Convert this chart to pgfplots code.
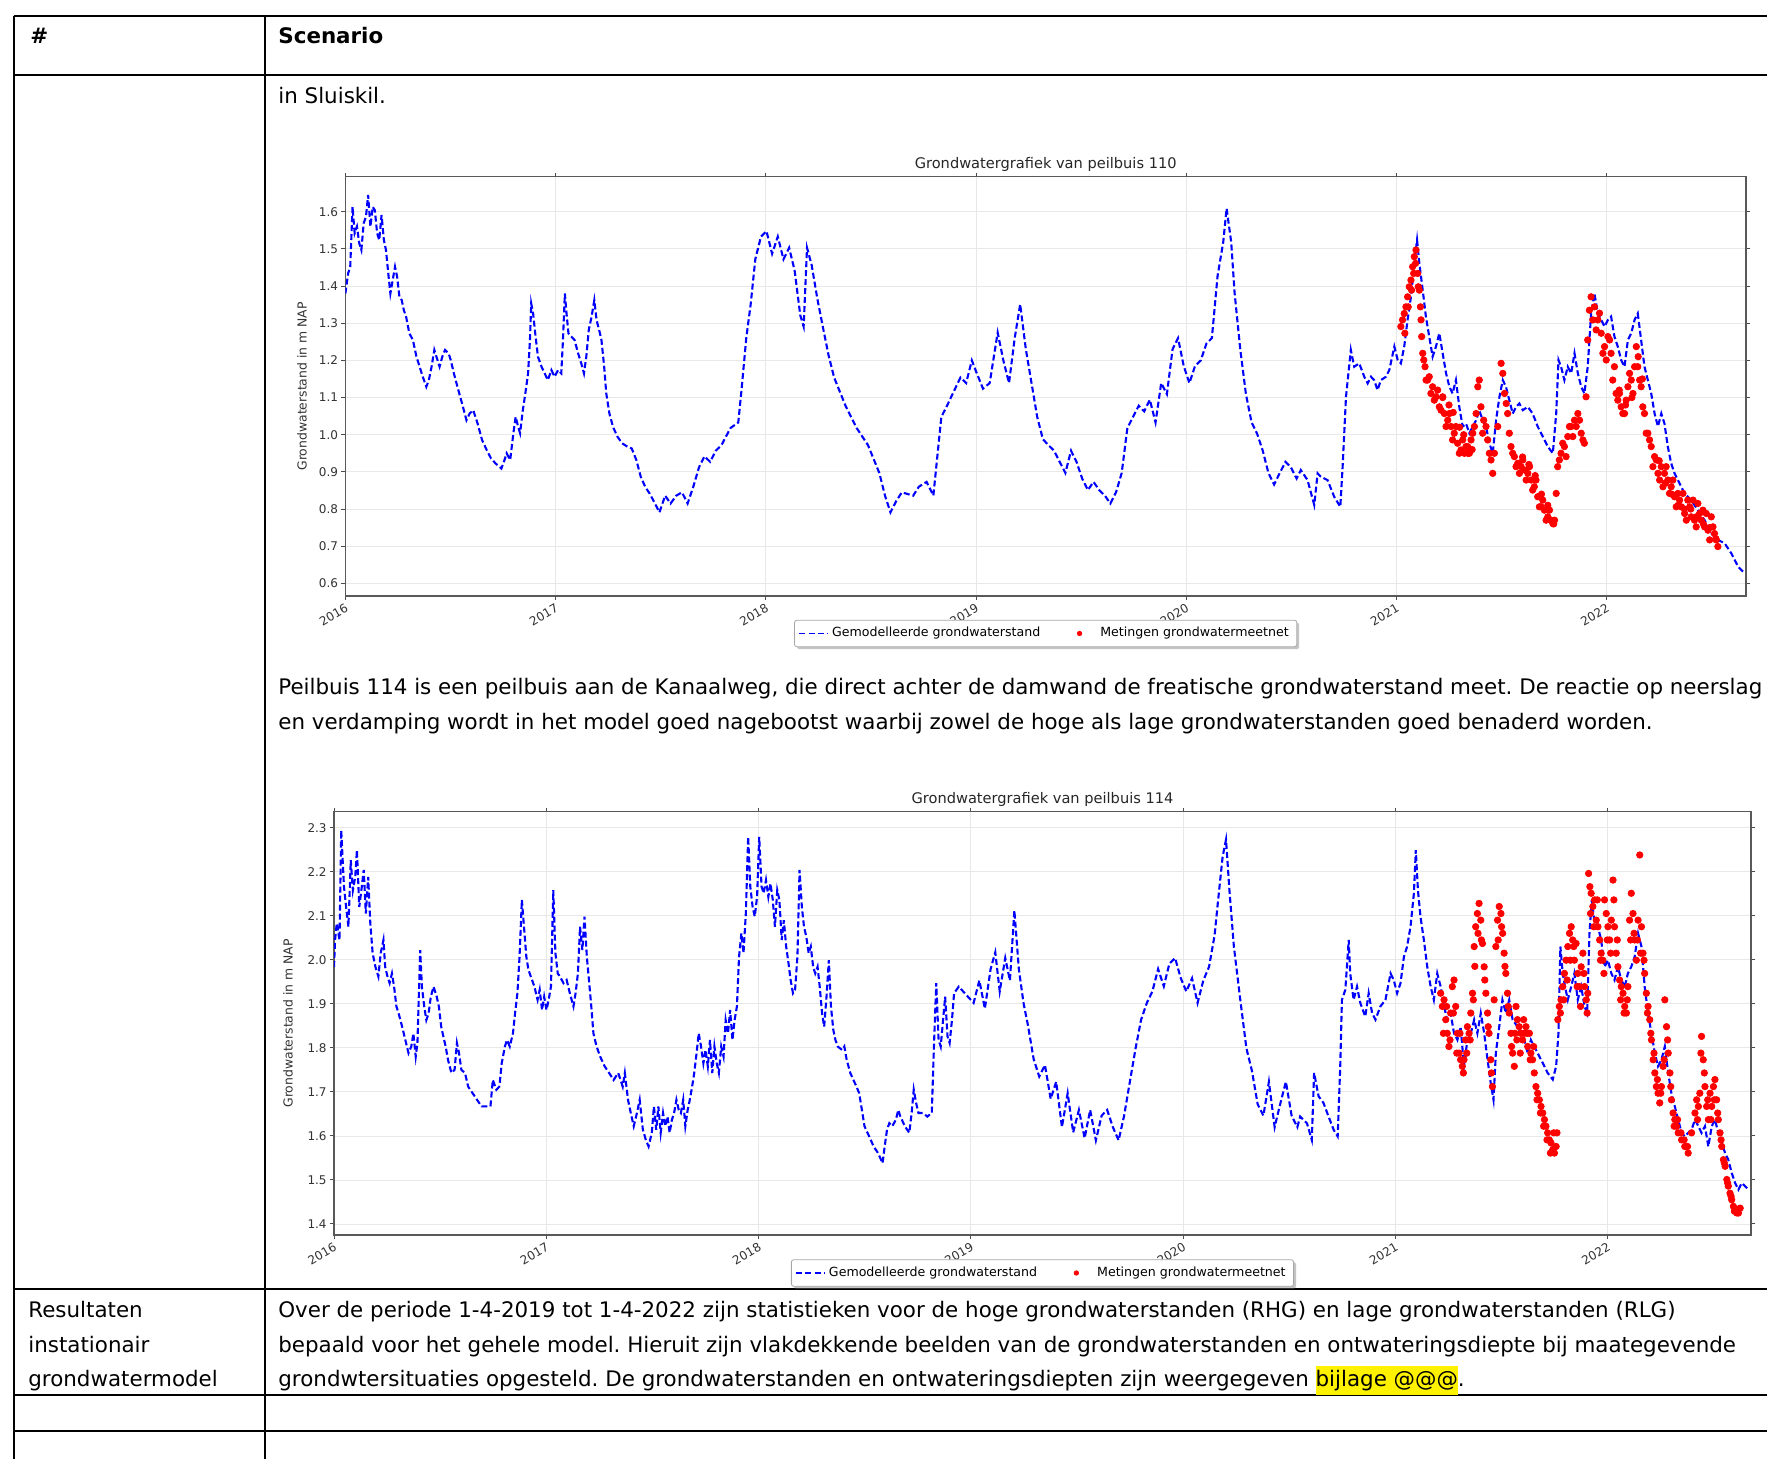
\documentclass[border=0pt]{standalone}
\usepackage{fontspec}
\setmainfont{DejaVu Sans}
\usepackage{pgfplots}
\pgfplotsset{compat=1.18}
\usetikzlibrary{shadows}
\makeatletter
\tikzset{nopreact/.code={\let\tikz@preactions\pgfutil@empty}}
\makeatother
\frenchspacing
\newcommand{\ctick}{\fontsize{6}{7}\selectfont}
\newcommand{\clab}{\fontsize{6.2}{7.2}\selectfont}
\newcommand{\ctitle}{\fontsize{7.3}{8.5}\selectfont}
\newcommand{\cleg}{\fontsize{6.3}{7.4}\selectfont}
\newcommand{\bodyf}{\fontsize{10.7}{12.8}\selectfont}
\pgfplotsset{
  gwstyle/.style={
    scale only axis,
    anchor=south west,
    xtick={2016,2017,2018,2019,2020,2021,2022},
    xticklabels={2016,2017,2018,2019,2020,2021,2022},
    tick align=outside,
    major tick length=2pt,
    tick style={black!70,line width=0.5pt},
    xticklabel style={rotate=30,anchor=north east,font=\ctick,text=black!80,inner sep=1pt},
    yticklabel style={font=\ctick,text=black!80,inner sep=1.5pt},
    grid=major,
    grid style={gray!18,line width=0.4pt},
    axis line style={black!65,line width=0.6pt},
    every axis title shift=0pt,
    title style={font=\ctitle,text=black!85,at={(0.5,1)},anchor=base,yshift=4.2pt},
    ylabel={Grondwaterstand in m NAP},
    legend style={legend columns=2,font=\cleg,draw=black!35,line width=0.4pt,fill=white,
      rounded corners=1.2pt,drop shadow={shadow xshift=1.2pt,shadow yshift=-1.2pt,fill=black!45},
      inner xsep=2pt,inner ysep=1.5pt,
      /tikz/every even column/.append style={column sep=16.5pt},cells={anchor=west}},
  },
  modelline/.style={blue,line width=1.05pt,dash pattern=on 3pt off 1.5pt,no markers,
    legend image code/.code={\draw[##1,line width=0.8pt,dash pattern=on 3pt off 1.6pt,nopreact] (0pt,0pt) -- (14pt,0pt);}},
  meetdots/.style={only marks,mark=*,mark size=1.6pt,mark options={fill=red,draw=red},
    legend image post style={mark size=1.1pt}},
}
\begin{document}
\begin{tikzpicture}
\begin{scope}[x=0.5pt,y=-0.5pt]
\useasboundingbox (0,0) rectangle (1767,1459);
\fill[white] (0,0) rectangle (1767,1459);
\draw[line width=1pt] (13.5,15.8) -- (1767,15.8);
\draw[line width=1pt] (13.5,75.5) -- (1767,75.5);
\draw[line width=1pt] (13.5,1288.5) -- (1767,1288.5);
\draw[line width=1pt] (13.5,1395) -- (1767,1395);
\draw[line width=1pt] (13.5,1431) -- (1767,1431);
\draw[line width=1pt] (13.5,15.8) -- (13.5,1459);
\draw[line width=1pt] (265,15.8) -- (265,1459);
\node[anchor=base west,inner sep=0] at (30,44) {\bodyf\bfseries \#};
\node[anchor=base west,inner sep=0] at (278,44) {\bodyf\bfseries Scenario};
\node[anchor=base west,inner sep=0] at (278,104) {\bodyf in Sluiskil.};
\node[anchor=base west,inner sep=0] at (278,694.5) {\bodyf Peilbuis 114 is een peilbuis aan de Kanaalweg, die direct achter de damwand de freatische grondwaterstand meet. De reactie op neerslag};
\node[anchor=base west,inner sep=0] at (278,729.5) {\bodyf en verdamping wordt in het model goed nagebootst waarbij zowel de hoge als lage grondwaterstanden goed benaderd worden.};
\node[anchor=base west,inner sep=0] at (28,1317.5) {\bodyf Resultaten};
\node[anchor=base west,inner sep=0] at (28,1352) {\bodyf instationair};
\node[anchor=base west,inner sep=0] at (28,1386.5) {\bodyf grondwatermodel};
\node[anchor=base west,inner sep=0] at (278,1317.5) {\bodyf Over de periode 1-4-2019 tot 1-4-2022 zijn statistieken voor de hoge grondwaterstanden (RHG) en lage grondwaterstanden (RLG)};
\node[anchor=base west,inner sep=0] at (278,1352) {\bodyf bepaald voor het gehele model. Hieruit zijn vlakdekkende beelden van de grondwaterstanden en ontwateringsdiepte bij maategevende};
\node[anchor=base west,inner sep=0] at (278,1386.5) {\bodyf grondwtersituaties opgesteld. De grondwaterstanden en ontwateringsdiepten zijn weergegeven {\setlength{\fboxsep}{0pt}\colorbox{yellow}{\rule[-4pt]{0pt}{14.5pt}bijlage @@@}}.};
\end{scope}

% ---------------- chart 1 ----------------
\begin{axis}[gwstyle,
  at={(172.7pt,-298pt)}, width=700.3pt, height=209.6pt,
  xmin=2016, xmax=2022.663, ymin=0.566, ymax=1.694,
  ytick={0.6,0.7,0.8,0.9,1.0,1.1,1.2,1.3,1.4,1.5,1.6},
  yticklabels={0.6,0.7,0.8,0.9,1.0,1.1,1.2,1.3,1.4,1.5,1.6},
  title={Grondwatergrafiek van peilbuis 110},
  ylabel style={font=\clab,text=black!80,at={(axis description cs:-0.031,0.5)},anchor=center},
  legend style={at={(0.5,-0.0894)},anchor=center},
]
\addplot[modelline] coordinates {
(2016.000,1.380) (2016.013,1.434) (2016.023,1.452) (2016.034,1.613) (2016.044,1.542) (2016.055,1.560) (2016.066,1.515) (2016.076,1.497) (2016.087,1.569) (2016.098,1.587) (2016.108,1.645) (2016.119,1.560) (2016.130,1.613) (2016.140,1.604) (2016.151,1.542) (2016.161,1.524) (2016.172,1.591) (2016.183,1.524) (2016.193,1.497) (2016.204,1.434) (2016.214,1.380) (2016.225,1.416) (2016.236,1.452) (2016.246,1.425) (2016.257,1.371) (2016.268,1.362) (2016.278,1.335) (2016.289,1.317) (2016.304,1.273) (2016.321,1.255) (2016.338,1.210) (2016.353,1.183) (2016.368,1.156) (2016.385,1.129) (2016.397,1.147) (2016.410,1.183) (2016.423,1.228) (2016.438,1.201) (2016.448,1.183) (2016.461,1.210) (2016.474,1.228) (2016.491,1.219) (2016.501,1.201) (2016.516,1.165) (2016.533,1.129) (2016.555,1.084) (2016.576,1.039) (2016.591,1.057) (2016.608,1.066) (2016.629,1.030) (2016.650,0.986) (2016.672,0.959) (2016.693,0.936) (2016.714,0.923) (2016.742,0.909) (2016.757,0.932) (2016.767,0.950) (2016.784,0.932) (2016.799,1.004) (2016.810,1.048) (2016.822,1.021) (2016.831,1.004) (2016.844,1.066) (2016.856,1.111) (2016.869,1.165) (2016.878,1.255) (2016.884,1.353) (2016.893,1.326) (2016.903,1.273) (2016.916,1.210) (2016.933,1.183) (2016.948,1.165) (2016.963,1.147) (2016.980,1.174) (2016.995,1.156) (2017.012,1.174) (2017.027,1.165) (2017.035,1.255) (2017.044,1.380) (2017.052,1.326) (2017.061,1.273) (2017.075,1.264) (2017.090,1.255) (2017.107,1.219) (2017.122,1.192) (2017.135,1.165) (2017.146,1.210) (2017.158,1.283) (2017.171,1.317) (2017.184,1.362) (2017.195,1.308) (2017.207,1.282) (2017.218,1.255) (2017.231,1.183) (2017.241,1.111) (2017.256,1.057) (2017.273,1.021) (2017.294,0.995) (2017.316,0.977) (2017.341,0.968) (2017.362,0.963) (2017.384,0.932) (2017.405,0.887) (2017.426,0.860) (2017.447,0.842)
(2017.467,0.821) (2017.494,0.791) (2017.521,0.836) (2017.547,0.815) (2017.574,0.836) (2017.601,0.845) (2017.628,0.815) (2017.655,0.860) (2017.682,0.912) (2017.708,0.942) (2017.735,0.927) (2017.762,0.957) (2017.789,0.972) (2017.832,1.018) (2017.869,1.033) (2017.885,1.124) (2017.907,1.260) (2017.928,1.351) (2017.950,1.472) (2017.977,1.533) (2018.003,1.548) (2018.030,1.487) (2018.057,1.533) (2018.084,1.472) (2018.111,1.503) (2018.137,1.442) (2018.164,1.321) (2018.180,1.291) (2018.196,1.503) (2018.218,1.457) (2018.245,1.366) (2018.271,1.291) (2018.298,1.215) (2018.325,1.154) (2018.379,1.078) (2018.432,1.018) (2018.486,0.972) (2018.540,0.897) (2018.567,0.836) (2018.593,0.791) (2018.620,0.821) (2018.647,0.845) (2018.701,0.836) (2018.728,0.860) (2018.765,0.873) (2018.797,0.836) (2018.835,1.048) (2018.862,1.078) (2018.888,1.109) (2018.926,1.154) (2018.953,1.139) (2018.980,1.200) (2019.001,1.169) (2019.033,1.124) (2019.065,1.139) (2019.103,1.275) (2019.130,1.200) (2019.157,1.139) (2019.184,1.260) (2019.210,1.351) (2019.237,1.230) (2019.264,1.139) (2019.291,1.048) (2019.318,0.988) (2019.344,0.972) (2019.371,0.957) (2019.398,0.927) (2019.425,0.897) (2019.452,0.957) (2019.478,0.927) (2019.505,0.882) (2019.532,0.851) (2019.559,0.873) (2019.586,0.851) (2019.613,0.836) (2019.639,0.815) (2019.666,0.845) (2019.693,0.897) (2019.720,1.018) (2019.747,1.048) (2019.774,1.078) (2019.800,1.063) (2019.827,1.094) (2019.854,1.033) (2019.881,1.139) (2019.908,1.109) (2019.935,1.230) (2019.961,1.260) (2019.988,1.185) (2020.015,1.139) (2020.042,1.185) (2020.069,1.200) (2020.096,1.245) (2020.122,1.260) (2020.149,1.427) (2020.176,1.518) (2020.192,1.609) (2020.214,1.518) (2020.230,1.382) (2020.257,1.230) (2020.284,1.109) (2020.311,1.033) (2020.337,1.003) (2020.364,0.957) (2020.391,0.897) (2020.418,0.866) (2020.445,0.897) (2020.472,0.927) (2020.498,0.912) (2020.525,0.882)
(2020.545,0.905) (2020.577,0.878) (2020.609,0.811) (2020.625,0.896) (2020.640,0.887) (2020.672,0.878) (2020.704,0.833) (2020.733,0.806) (2020.744,0.914) (2020.760,1.102) (2020.783,1.228) (2020.799,1.183) (2020.823,1.192) (2020.847,1.156) (2020.863,1.138) (2020.879,1.156) (2020.894,1.147) (2020.910,1.120) (2020.926,1.147) (2020.950,1.156) (2020.966,1.174) (2020.990,1.237) (2021.006,1.201) (2021.021,1.192) (2021.037,1.237) (2021.053,1.309) (2021.069,1.371) (2021.085,1.461) (2021.098,1.524) (2021.109,1.461) (2021.125,1.389) (2021.140,1.318) (2021.156,1.264) (2021.172,1.210) (2021.188,1.237) (2021.204,1.273) (2021.220,1.219) (2021.236,1.165) (2021.252,1.129) (2021.267,1.111) (2021.283,1.147) (2021.299,1.075) (2021.315,1.022) (2021.331,1.030) (2021.347,1.004) (2021.363,1.022) (2021.379,1.039) (2021.394,1.066) (2021.410,1.039) (2021.426,1.022) (2021.442,0.977) (2021.458,0.950) (2021.474,1.039) (2021.490,1.102) (2021.506,1.147) (2021.521,1.129) (2021.537,1.093) (2021.553,1.057) (2021.569,1.075) (2021.585,1.084) (2021.601,1.066) (2021.625,1.075) (2021.648,1.057) (2021.672,1.022) (2021.696,0.995) (2021.720,0.968) (2021.744,0.950) (2021.760,1.057) (2021.771,1.201) (2021.783,1.183) (2021.799,1.147) (2021.815,1.183) (2021.831,1.165) (2021.847,1.219) (2021.863,1.165) (2021.879,1.129) (2021.894,1.111) (2021.910,1.183) (2021.926,1.326) (2021.942,1.380) (2021.958,1.326) (2021.974,1.309) (2021.990,1.291) (2022.006,1.309) (2022.021,1.318) (2022.037,1.264) (2022.053,1.237) (2022.069,1.201) (2022.085,1.183) (2022.101,1.255) (2022.117,1.273) (2022.133,1.309) (2022.148,1.326) (2022.164,1.255) (2022.180,1.183) (2022.196,1.147) (2022.212,1.111) (2022.228,1.057) (2022.244,1.022) (2022.260,1.057) (2022.275,1.030) (2022.291,0.968) (2022.307,0.923) (2022.323,0.896) (2022.339,0.878) (2022.371,0.842) (2022.402,0.824) (2022.434,0.797) (2022.466,0.770) (2022.498,0.734) (2022.529,0.717) (2022.561,0.708) (2022.593,0.681) (2022.625,0.645) (2022.656,0.627)
};
\addlegendentry{Gemodelleerde grondwaterstand}
\addplot[meetdots] coordinates {
(2021.021,1.291) (2021.029,1.309) (2021.037,1.326) (2021.045,1.344) (2021.053,1.371) (2021.061,1.398) (2021.069,1.416) (2021.077,1.452) (2021.085,1.479) (2021.093,1.497) (2021.101,1.434) (2021.109,1.389) (2021.117,1.309) (2021.125,1.219) (2021.136,1.183) (2021.148,1.147) (2021.164,1.111) (2021.180,1.093) (2021.196,1.120) (2021.212,1.066) (2021.228,1.057) (2021.244,1.039) (2021.260,1.022) (2021.275,1.004) (2021.291,0.977) (2021.307,0.959) (2021.323,0.950) (2021.339,0.968) (2021.355,0.986) (2021.371,1.022) (2021.387,1.129) (2021.394,1.147) (2021.402,1.075) (2021.415,1.039) (2021.426,1.022) (2021.442,0.950) (2021.458,0.896) (2021.466,0.950) (2021.482,1.022) (2021.498,1.192) (2021.506,1.165) (2021.514,1.111) (2021.529,1.057) (2021.545,0.968) (2021.561,0.941) (2021.577,0.923) (2021.593,0.914) (2021.609,0.905) (2021.625,0.896) (2021.641,0.878) (2021.656,0.860) (2021.672,0.833) (2021.688,0.806) (2021.704,0.797) (2021.720,0.779) (2021.736,0.770) (2021.752,0.770) (2021.760,0.842) (2021.767,0.914) (2021.783,0.950) (2021.799,0.968) (2021.815,0.995) (2021.831,1.022) (2021.847,1.039) (2021.863,1.057) (2021.879,1.004) (2021.894,0.977) (2021.902,1.102) (2021.910,1.255) (2021.918,1.335) (2021.926,1.371) (2021.942,1.344) (2021.958,1.309) (2021.974,1.273) (2021.990,1.237) (2022.006,1.264) (2022.021,1.219) (2022.037,1.183) (2022.045,1.111) (2022.053,1.093) (2022.069,1.075) (2022.085,1.057) (2022.101,1.129) (2022.117,1.147) (2022.133,1.183) (2022.141,1.237) (2022.148,1.183) (2022.164,1.129) (2022.180,1.057) (2022.196,1.004) (2022.212,0.968) (2022.228,0.941) (2022.244,0.896) (2022.260,0.914) (2022.275,0.896) (2022.291,0.878) (2022.307,0.860) (2022.323,0.833) (2022.339,0.842) (2022.355,0.806) (2022.371,0.788) (2022.386,0.824) (2022.402,0.779) (2022.418,0.770) (2022.434,0.815) (2022.450,0.770) (2022.466,0.752) (2022.482,0.743) (2022.498,0.779) (2022.513,0.734) (2022.529,0.699)
(2021.220,1.100) (2021.250,1.080) (2021.270,1.060) (2021.300,1.020) (2021.320,1.000) (2021.340,0.950) (2021.360,0.960) (2021.600,0.940) (2021.630,0.920) (2021.660,0.890) (2021.690,0.840) (2021.720,0.810) (2021.748,0.760) (2022.060,1.120) (2022.090,1.080) (2022.120,1.100) (2022.150,1.210) (2022.170,1.150) (2022.250,0.930) (2022.280,0.870) (2022.310,0.840) (2022.340,0.810) (2022.370,0.800) (2022.400,0.800) (2022.430,0.780) (2022.460,0.760) (2022.490,0.750) (2022.520,0.720)
(2021.040,1.273) (2021.056,1.344) (2021.072,1.389) (2021.082,1.434) (2021.091,1.461) (2021.104,1.398) (2021.114,1.344) (2021.120,1.264) (2021.130,1.201) (2021.141,1.147)
(2021.156,1.156) (2021.172,1.129) (2021.188,1.102) (2021.204,1.075) (2021.220,1.102) (2021.236,1.022) (2021.252,1.057) (2021.267,0.986) (2021.283,1.022) (2021.299,0.950) (2021.315,0.986) (2021.331,0.968) (2021.347,0.950) (2021.363,1.004) (2021.379,1.057) (2021.410,1.004) (2021.434,0.986) (2021.450,0.932) (2021.522,1.084) (2021.537,1.004) (2021.553,0.950) (2021.569,0.914) (2021.585,0.896) (2021.601,0.932) (2021.617,0.878) (2021.633,0.914) (2021.648,0.851) (2021.664,0.878) (2021.680,0.806) (2021.696,0.824) (2021.712,0.770) (2021.728,0.797) (2021.744,0.761) (2021.775,0.932) (2021.791,0.977) (2021.807,0.941) (2021.823,1.022) (2021.839,0.995) (2021.855,1.022) (2021.871,1.039) (2021.887,0.986) (2021.934,1.309) (2021.950,1.282) (2021.966,1.327) (2021.982,1.219) (2021.998,1.201) (2022.014,1.255) (2022.029,1.147) (2022.061,1.111) (2022.077,1.057) (2022.093,1.093) (2022.109,1.165) (2022.125,1.111) (2022.157,1.147) (2022.172,1.075) (2022.188,1.004) (2022.204,0.986) (2022.220,0.914) (2022.236,0.932) (2022.252,0.878) (2022.268,0.860) (2022.283,0.914) (2022.299,0.842) (2022.315,0.878) (2022.331,0.806) (2022.347,0.824) (2022.363,0.842) (2022.379,0.770) (2022.395,0.806) (2022.411,0.824) (2022.426,0.752) (2022.442,0.788) (2022.458,0.797) (2022.474,0.788) (2022.490,0.717) (2022.506,0.752) (2022.521,0.717)
};
\addlegendentry{\hspace{7.3pt}Metingen grondwatermeetnet}
\end{axis}

% ---------------- chart 2 ----------------
\begin{axis}[gwstyle,
  at={(167pt,-617.5pt)}, width=708.5pt, height=211.6pt,
  xmin=2016, xmax=2022.675, ymin=1.375, ymax=2.336,
  ytick={1.4,1.5,1.6,1.7,1.8,1.9,2.0,2.1,2.2,2.3},
  yticklabels={1.4,1.5,1.6,1.7,1.8,1.9,2.0,2.1,2.2,2.3},
  title={Grondwatergrafiek van peilbuis 114},
  ylabel style={font=\clab,text=black!80,at={(axis description cs:-0.0325,0.5)},anchor=center},
  legend style={at={(0.5,-0.0898)},anchor=center},
]
\addplot[modelline] coordinates {
(2016.000,1.984) (2016.005,2.045) (2016.013,2.083) (2016.026,2.045) (2016.034,2.294) (2016.047,2.166) (2016.057,2.120) (2016.068,2.075) (2016.079,2.226) (2016.089,2.158) (2016.100,2.188) (2016.108,2.249) (2016.119,2.120) (2016.129,2.158) (2016.140,2.204) (2016.150,2.105) (2016.161,2.188) (2016.171,2.083) (2016.182,2.015) (2016.195,1.984) (2016.209,1.962) (2016.220,2.015) (2016.233,2.045) (2016.241,1.984) (2016.252,1.962) (2016.262,1.947) (2016.273,1.969) (2016.283,1.939) (2016.294,1.894) (2016.304,1.879) (2016.321,1.848) (2016.336,1.818) (2016.351,1.788) (2016.364,1.803) (2016.374,1.833) (2016.385,1.780) (2016.393,1.811) (2016.406,2.022) (2016.414,1.939) (2016.425,1.894) (2016.435,1.863) (2016.446,1.879) (2016.456,1.916) (2016.469,1.939) (2016.484,1.916) (2016.494,1.894) (2016.505,1.848) (2016.515,1.826) (2016.526,1.803) (2016.537,1.773) (2016.553,1.743) (2016.568,1.750) (2016.579,1.811) (2016.589,1.788) (2016.600,1.750) (2016.617,1.743) (2016.632,1.712) (2016.653,1.697) (2016.674,1.682) (2016.695,1.667) (2016.716,1.667) (2016.737,1.667) (2016.748,1.727) (2016.765,1.705) (2016.779,1.712) (2016.790,1.765) (2016.805,1.803) (2016.815,1.818) (2016.828,1.803) (2016.843,1.833) (2016.853,1.879) (2016.864,1.924) (2016.874,2.007) (2016.885,2.136) (2016.895,2.075) (2016.906,2.007) (2016.916,1.977) (2016.933,1.954) (2016.944,1.939) (2016.959,1.909) (2016.969,1.932) (2016.980,1.886) (2016.990,1.916) (2017.001,1.886) (2017.011,1.909) (2017.022,1.939) (2017.033,2.158) (2017.043,2.015) (2017.054,1.969) (2017.064,1.962) (2017.081,1.947) (2017.096,1.954) (2017.111,1.924) (2017.128,1.894) (2017.138,1.924) (2017.149,1.969) (2017.159,2.075) (2017.170,2.022) (2017.180,2.098) (2017.191,2.007) (2017.201,1.954) (2017.212,1.894) (2017.222,1.833) (2017.237,1.803) (2017.254,1.780) (2017.275,1.758) (2017.296,1.743) (2017.317,1.727) (2017.339,1.743) (2017.360,1.712) (2017.370,1.743) (2017.385,1.682) (2017.398,1.652) (2017.412,1.622) (2017.427,1.652) (2017.440,1.682) (2017.455,1.614) (2017.469,1.591) (2017.482,1.576) (2017.497,1.607) (2017.507,1.667) (2017.518,1.614) (2017.528,1.667) (2017.539,1.607) (2017.550,1.652) (2017.560,1.622) (2017.571,1.644) (2017.581,1.607) (2017.592,1.637) (2017.602,1.652) (2017.613,1.682) (2017.624,1.659) (2017.634,1.652) (2017.645,1.682) (2017.655,1.622) (2017.666,1.659) (2017.676,1.682) (2017.687,1.712) (2017.697,1.743) (2017.708,1.788) (2017.718,1.833) (2017.729,1.803) (2017.740,1.765) (2017.750,1.795) (2017.761,1.758) (2017.771,1.818) (2017.782,1.743) (2017.792,1.803) (2017.803,1.765) (2017.813,1.743) (2017.824,1.803) (2017.835,1.780) (2017.845,1.863) (2017.856,1.833) (2017.866,1.886) (2017.877,1.818) (2017.887,1.863) (2017.898,1.894) (2017.908,2.007) (2017.919,2.060) (2017.929,2.015) (2017.940,2.105) (2017.951,2.279) (2017.961,2.166) (2017.972,2.120) (2017.982,2.098) (2017.993,2.143) (2018.003,2.279) (2018.014,2.166) (2018.024,2.151) (2018.035,2.181) (2018.046,2.143) (2018.056,2.173) (2018.067,2.136) (2018.077,2.075) (2018.088,2.158) (2018.098,2.136) (2018.109,2.045) (2018.119,2.090) (2018.130,2.030) (2018.141,1.992) (2018.151,1.954) (2018.162,1.924) (2018.172,1.932) (2018.183,2.007) (2018.193,2.204) (2018.204,2.120) (2018.214,2.075) (2018.225,2.052) (2018.236,2.015) (2018.246,2.030) (2018.257,1.984) (2018.267,1.969) (2018.278,1.984) (2018.288,1.939) (2018.299,1.879) (2018.309,1.848) (2018.320,1.916) (2018.331,1.999) (2018.341,1.894) (2018.352,1.841) (2018.362,1.818) (2018.373,1.803) (2018.394,1.795) (2018.404,1.803) (2018.415,1.773) (2018.432,1.743) (2018.447,1.727) (2018.461,1.712) (2018.474,1.697) (2018.489,1.652) (2018.499,1.622) (2018.521,1.599) (2018.542,1.576) (2018.563,1.561) (2018.584,1.538) (2018.594,1.576) (2018.605,1.614) (2018.616,1.629) (2018.630,1.622) (2018.647,1.637) (2018.658,1.659) (2018.668,1.644) (2018.689,1.622) (2018.710,1.607) (2018.721,1.652) (2018.731,1.705) (2018.742,1.675) (2018.753,1.652) (2018.774,1.652) (2018.795,1.644) (2018.816,1.652) (2018.826,1.803) (2018.837,1.947) (2018.848,1.818) (2018.858,1.803) (2018.869,1.863) (2018.879,1.916) (2018.890,1.826) (2018.900,1.811) (2018.911,1.863) (2018.921,1.924) (2018.943,1.939)
(2019.013,1.902) (2019.040,1.953) (2019.066,1.889) (2019.093,1.979) (2019.115,2.017) (2019.136,1.928) (2019.162,2.004) (2019.184,1.953) (2019.205,2.112) (2019.226,1.979) (2019.248,1.902) (2019.269,1.851) (2019.296,1.774) (2019.322,1.735) (2019.349,1.761) (2019.376,1.684) (2019.402,1.723) (2019.429,1.620) (2019.456,1.697) (2019.482,1.608) (2019.509,1.659) (2019.536,1.595) (2019.562,1.659) (2019.589,1.590) (2019.616,1.646) (2019.642,1.659) (2019.669,1.620) (2019.696,1.590) (2019.722,1.646) (2019.749,1.723) (2019.776,1.799) (2019.802,1.864) (2019.829,1.902) (2019.855,1.928) (2019.882,1.979) (2019.909,1.940) (2019.935,1.991) (2019.962,2.004) (2019.989,1.958) (2020.015,1.928) (2020.042,1.958) (2020.068,1.902) (2020.095,1.953) (2020.122,1.984) (2020.148,2.055) (2020.164,2.132) (2020.186,2.234) (2020.202,2.273) (2020.218,2.158) (2020.239,2.030) (2020.271,1.902) (2020.298,1.799) (2020.324,1.748) (2020.351,1.672) (2020.378,1.646) (2020.404,1.723) (2020.431,1.620) (2020.457,1.672) (2020.484,1.723) (2020.511,1.646) (2020.538,1.620)
(2020.551,1.644) (2020.583,1.629) (2020.606,1.591) (2020.617,1.743) (2020.638,1.690) (2020.661,1.675) (2020.685,1.644) (2020.709,1.614) (2020.728,1.599) (2020.740,1.758) (2020.748,1.909) (2020.764,1.932) (2020.780,2.045) (2020.787,1.969) (2020.803,1.909) (2020.819,1.939) (2020.835,1.901) (2020.858,1.871) (2020.874,1.924) (2020.890,1.879) (2020.906,1.864) (2020.929,1.894) (2020.953,1.909) (2020.977,1.969) (2020.992,1.954) (2021.008,1.924) (2021.024,1.947) (2021.040,2.007) (2021.055,2.030) (2021.071,2.075) (2021.087,2.151) (2021.096,2.249) (2021.106,2.158) (2021.118,2.098) (2021.134,2.045) (2021.150,1.984) (2021.166,1.939) (2021.181,1.909) (2021.197,1.969) (2021.213,1.939) (2021.229,1.894) (2021.244,1.864) (2021.260,1.879) (2021.276,1.833) (2021.292,1.818) (2021.307,1.848) (2021.323,1.758) (2021.339,1.818) (2021.355,1.833) (2021.371,1.864) (2021.386,1.833) (2021.402,1.879) (2021.418,1.833) (2021.434,1.773) (2021.449,1.720) (2021.462,1.682) (2021.473,1.788) (2021.489,1.848) (2021.504,1.909) (2021.520,1.879) (2021.536,1.909) (2021.552,1.864) (2021.575,1.848) (2021.591,1.833) (2021.607,1.818) (2021.623,1.788) (2021.638,1.818) (2021.654,1.803) (2021.670,1.788) (2021.686,1.773) (2021.702,1.758) (2021.717,1.743) (2021.741,1.728) (2021.757,1.758) (2021.768,1.833) (2021.777,2.030) (2021.788,1.969) (2021.799,1.939) (2021.812,1.909) (2021.828,1.939) (2021.843,1.969) (2021.859,1.909) (2021.875,1.939) (2021.891,1.894) (2021.903,1.879) (2021.914,2.060) (2021.925,2.136) (2021.938,2.083) (2021.954,2.075) (2021.969,2.045) (2021.985,1.984) (2022.001,1.999) (2022.017,1.969) (2022.032,1.954) (2022.048,1.984) (2022.064,1.954) (2022.080,1.939) (2022.095,1.969) (2022.111,1.984) (2022.127,2.007) (2022.143,2.060) (2022.159,2.030) (2022.174,1.939) (2022.190,1.879) (2022.206,1.833) (2022.222,1.788) (2022.237,1.758) (2022.253,1.773) (2022.269,1.803) (2022.285,1.743) (2022.300,1.697) (2022.316,1.667) (2022.332,1.637) (2022.348,1.607) (2022.363,1.599) (2022.379,1.607) (2022.395,1.614) (2022.411,1.637) (2022.427,1.622) (2022.442,1.607) (2022.458,1.622) (2022.474,1.576) (2022.490,1.622) (2022.505,1.637) (2022.521,1.607) (2022.537,1.584) (2022.553,1.561) (2022.568,1.546) (2022.584,1.516) (2022.600,1.493) (2022.616,1.478) (2022.631,1.493) (2022.647,1.486) (2022.663,1.478)
};
\addlegendentry{Gemodelleerde grondwaterstand}
\addplot[meetdots] coordinates {
(2021.213,1.924) (2021.221,1.894) (2021.229,1.909) (2021.237,1.864) (2021.244,1.833) (2021.252,1.803) (2021.260,1.879) (2021.268,1.939) (2021.276,1.954) (2021.284,1.894) (2021.292,1.833) (2021.300,1.788) (2021.307,1.773) (2021.315,1.758) (2021.323,1.773) (2021.331,1.818) (2021.339,1.848) (2021.347,1.833) (2021.355,1.879) (2021.363,1.924) (2021.371,2.030) (2021.378,2.075) (2021.386,2.105) (2021.394,2.128) (2021.402,2.090) (2021.410,2.037) (2021.418,1.984) (2021.426,1.924) (2021.434,1.879) (2021.441,1.833) (2021.449,1.773) (2021.457,1.712) (2021.465,1.909) (2021.473,2.030) (2021.481,2.090) (2021.489,2.121) (2021.497,2.105) (2021.505,2.060) (2021.512,2.015) (2021.520,1.969) (2021.528,1.924) (2021.536,1.879) (2021.544,1.833) (2021.552,1.788) (2021.560,1.758) (2021.568,1.894) (2021.575,1.864) (2021.583,1.848) (2021.591,1.833) (2021.599,1.818) (2021.607,1.833) (2021.615,1.848) (2021.623,1.803) (2021.631,1.833) (2021.638,1.788) (2021.646,1.773) (2021.654,1.743) (2021.662,1.712) (2021.670,1.697) (2021.678,1.682) (2021.686,1.667) (2021.694,1.652) (2021.702,1.637) (2021.709,1.622) (2021.717,1.607) (2021.725,1.591) (2021.733,1.584) (2021.741,1.569) (2021.749,1.561) (2021.757,1.576) (2021.761,1.607) (2021.765,1.864) (2021.772,1.894) (2021.780,1.909) (2021.788,1.939) (2021.796,1.969) (2021.804,1.999) (2021.812,2.030) (2021.820,2.060) (2021.828,2.075) (2021.835,2.045) (2021.843,1.999) (2021.851,2.037) (2021.859,1.969) (2021.867,1.939) (2021.875,1.984) (2021.883,2.015) (2021.891,1.939) (2021.899,1.909) (2021.906,1.924) (2021.910,2.196) (2021.916,2.166) (2021.922,2.151) (2021.930,2.121) (2021.938,2.136) (2021.946,2.090) (2021.954,2.075) (2021.962,2.045) (2021.969,2.015) (2021.977,1.999) (2021.985,2.136) (2021.993,2.105) (2022.001,2.075) (2022.009,2.045) (2022.017,2.090) (2022.025,2.181) (2022.032,2.075) (2022.040,2.015) (2022.048,1.984) (2022.056,1.954) (2022.064,1.939) (2022.072,1.924) (2022.080,1.894) (2022.088,1.879) (2022.095,1.939) (2022.103,2.090) (2022.111,2.151) (2022.119,2.105) (2022.127,2.045) (2022.135,1.999) (2022.143,2.090) (2022.151,2.238) (2022.159,2.075) (2022.166,2.015) (2022.174,1.969) (2022.182,1.924) (2022.190,1.894) (2022.198,1.864) (2022.206,1.818) (2022.214,1.773) (2022.222,1.743) (2022.229,1.712) (2022.237,1.697) (2022.245,1.675) (2022.253,1.712) (2022.261,1.758) (2022.269,1.909) (2022.277,1.848) (2022.285,1.788) (2022.293,1.743) (2022.300,1.682) (2022.308,1.652) (2022.316,1.637) (2022.324,1.622) (2022.332,1.607) (2022.348,1.591) (2022.363,1.576) (2022.379,1.561) (2022.395,1.607) (2022.411,1.652) (2022.419,1.682) (2022.427,1.667) (2022.434,1.697) (2022.442,1.826) (2022.450,1.773) (2022.458,1.712) (2022.466,1.667) (2022.474,1.637) (2022.482,1.697) (2022.490,1.667) (2022.498,1.712) (2022.505,1.728) (2022.513,1.682) (2022.521,1.637) (2022.529,1.607) (2022.537,1.576) (2022.545,1.546) (2022.553,1.531) (2022.561,1.501) (2022.568,1.486) (2022.576,1.470) (2022.584,1.455) (2022.592,1.440) (2022.600,1.433) (2022.608,1.425) (2022.616,1.425) (2022.624,1.436)
(2021.226,1.833) (2021.241,1.894) (2021.257,1.818) (2021.273,1.879) (2021.289,1.788) (2021.304,1.833) (2021.320,1.743) (2021.336,1.788) (2021.352,1.818) (2021.367,1.909) (2021.374,1.985) (2021.389,2.060) (2021.405,2.045) (2021.421,1.954) (2021.437,1.848) (2021.452,1.743) (2021.484,2.045) (2021.500,2.075) (2021.516,1.985) (2021.531,1.894) (2021.547,1.803) (2021.563,1.833) (2021.572,1.818) (2021.588,1.788) (2021.604,1.864) (2021.620,1.833) (2021.635,1.773) (2021.651,1.803) (2021.667,1.682) (2021.683,1.652) (2021.698,1.622) (2021.714,1.591) (2021.730,1.561) (2021.746,1.607) (2021.777,1.879) (2021.793,1.909) (2021.809,1.954) (2021.824,1.999) (2021.840,2.030) (2021.856,1.939) (2021.872,1.894) (2021.888,1.969) (2021.903,1.879) (2021.919,2.105) (2021.935,2.075) (2021.951,2.136) (2021.966,1.999) (2021.982,1.969) (2021.998,2.045) (2022.014,2.015) (2022.029,2.136) (2022.045,2.045) (2022.061,1.909) (2022.077,1.879) (2022.092,1.909) (2022.108,2.045) (2022.124,2.060) (2022.140,2.045) (2022.155,2.015) (2022.171,1.999) (2022.187,1.879) (2022.203,1.833) (2022.218,1.788) (2022.234,1.728) (2022.250,1.697) (2022.266,1.773) (2022.282,1.818) (2022.297,1.712) (2022.313,1.622) (2022.329,1.637) (2022.345,1.607) (2022.360,1.591) (2022.376,1.576) (2022.423,1.637) (2022.439,1.788) (2022.455,1.743) (2022.471,1.682) (2022.486,1.637) (2022.502,1.682) (2022.518,1.652) (2022.534,1.591) (2022.549,1.539) (2022.565,1.493) (2022.581,1.463) (2022.597,1.429) (2022.612,1.433)
};
\addlegendentry{\hspace{7.3pt}Metingen grondwatermeetnet}
\end{axis}
\end{tikzpicture}
\end{document}
